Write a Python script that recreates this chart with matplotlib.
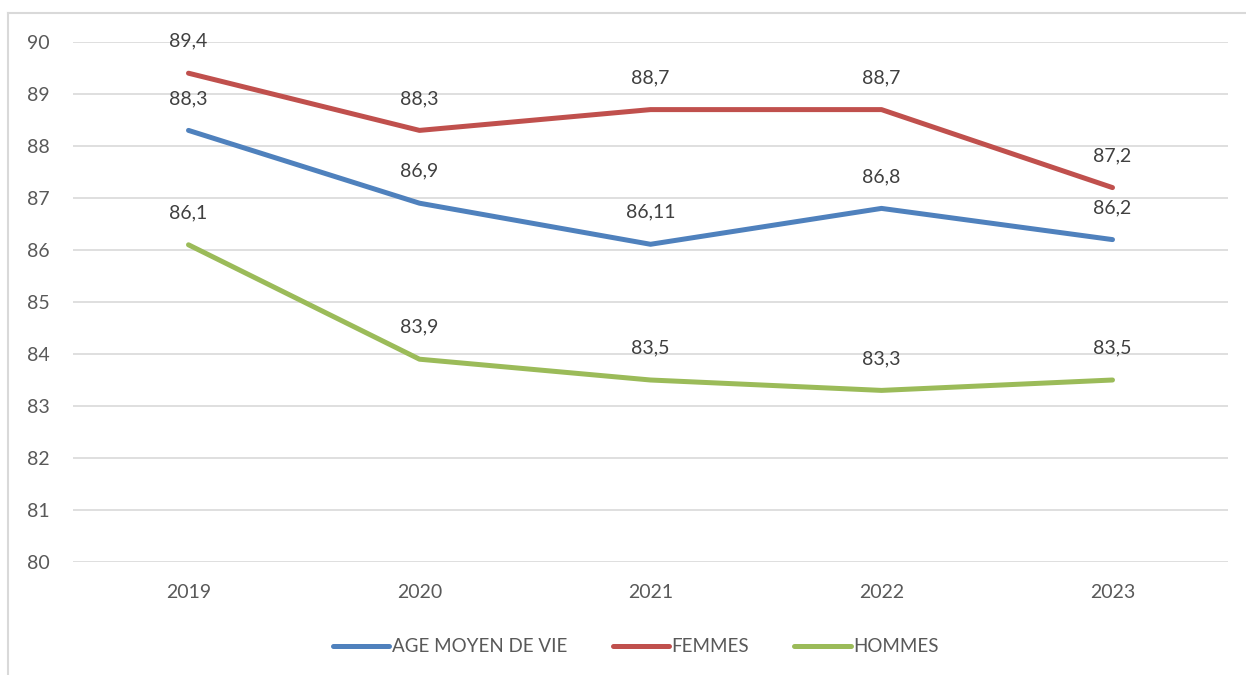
import matplotlib.pyplot as plt
from matplotlib.lines import Line2D

years = ["2019", "2020", "2021", "2022", "2023"]
age_moyen = [88.3, 86.9, 86.11, 86.8, 86.2]
femmes = [89.4, 88.3, 88.7, 88.7, 87.2]
hommes = [86.1, 83.9, 83.5, 83.3, 83.5]
series_names = ["AGE MOYEN DE VIE", "FEMMES", "HOMMES"]
colors = ["#4F81BD", "#C0504D", "#9BBB59"]

plt.rcParams['font.family'] = ['Lato', 'DejaVu Sans']

W, H = 1246, 675
fig = plt.figure(figsize=(W / 100, H / 100), dpi=100)
ax = fig.add_axes([73 / W, 1 - 562 / H, (1228 - 73) / W, (562 - 42) / H])

x = list(range(len(years)))
for vals, name, c in zip([age_moyen, femmes, hommes], series_names, colors):
    ax.plot(x, vals, color=c, linewidth=3.6, solid_capstyle='round', label=name, zorder=3)
    for xi, v in zip(x, vals):
        lbl = ("%g" % v).replace(".", ",")
        ax.annotate(lbl, (xi, v), xytext=(0, 32), textcoords='offset pixels',
                    ha='center', va='center', fontsize=14, color='#404040', zorder=4)

ax.set_xlim(-0.5, len(years) - 0.5)
ax.set_ylim(80, 90)
ax.set_yticks(range(80, 91))
ax.set_xticks(x)
ax.set_xticklabels(years)
ax.grid(axis='y', color='#D9D9D9', linewidth=1.2, zorder=0)
for s in ax.spines.values():
    s.set_visible(False)
ax.tick_params(axis='both', length=0, labelsize=14, labelcolor='#595959')
ax.tick_params(axis='y', pad=17)
ax.tick_params(axis='x', pad=16)

leg = ax.legend(loc='center', bbox_to_anchor=(636 / W, 1 - 647 / H),
                bbox_transform=fig.transFigure, ncol=3, frameon=False,
                fontsize=13.5, handlelength=3.0, handletextpad=0.15, columnspacing=2.4)
for t in leg.get_texts():
    t.set_color('#595959')

# outer chart frame (partially visible)
fig.add_artist(Line2D([8 / W, 1], [1 - 13 / H, 1 - 13 / H], color='#D9D9D9', linewidth=1.5))
fig.add_artist(Line2D([8 / W, 8 / W], [0, 1 - 13 / H], color='#D9D9D9', linewidth=1.5))

fig.savefig("out.png", dpi=100)
